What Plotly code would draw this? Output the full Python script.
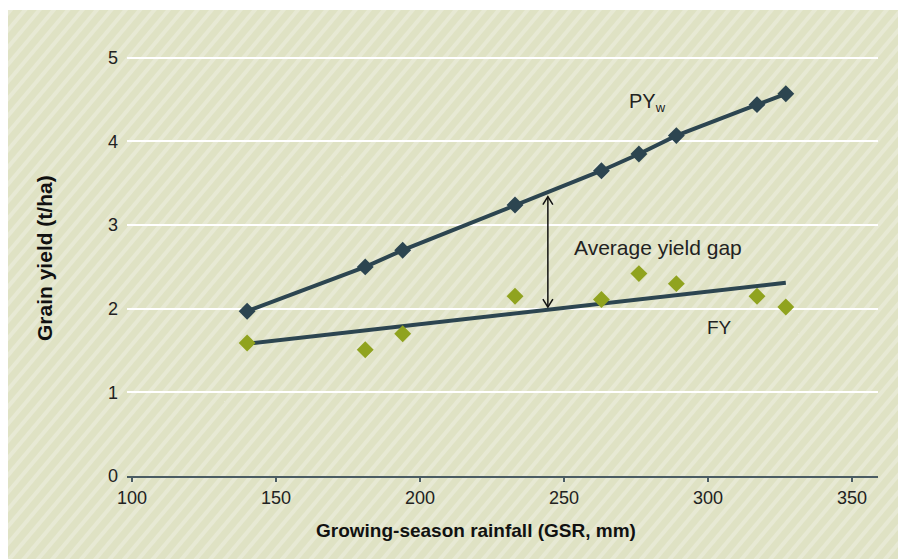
import base64
import plotly.graph_objects as go

# ---- data ----
gsr_mm = [140, 181, 194, 233, 263, 276, 289, 317, 327]
pyw_t_ha = [1.97, 2.50, 2.70, 3.24, 3.65, 3.85, 4.07, 4.44, 4.57]
fy_t_ha = [1.59, 1.51, 1.70, 2.15, 2.11, 2.42, 2.30, 2.15, 2.02]
fy_trend_x = [140, 327]
fy_trend_y = [1.58, 2.31]

gap_x = 244.4
gap_low = 2.02
gap_high = 3.34

x_ticks = [100, 150, 200, 250, 300, 350]
y_ticks = [0, 1, 2, 3, 4, 5]

W, H = 906, 559
ML, MR, MT, MB = 119, 36, 8, 91
X_RANGE = [98.3, 359.0]
Y_RANGE = [0, 5.5]

DARK = "#2c4550"
OLIVE = "#90a31f"
TXT = "#222222"
FONT = "Liberation Sans, Arial, sans-serif"

fig = go.Figure()

fig.add_trace(go.Scatter(
    x=gsr_mm, y=pyw_t_ha, mode="lines+markers",
    line=dict(color=DARK, width=4),
    marker=dict(symbol="diamond", size=13, color=DARK),
    showlegend=False, hoverinfo="skip"))

fig.add_trace(go.Scatter(
    x=fy_trend_x, y=fy_trend_y, mode="lines",
    line=dict(color=DARK, width=4),
    showlegend=False, hoverinfo="skip"))

fig.add_trace(go.Scatter(
    x=gsr_mm, y=fy_t_ha, mode="markers",
    marker=dict(symbol="diamond", size=13, color=OLIVE),
    showlegend=False, hoverinfo="skip"))

# double-headed arrow for the yield gap (chevron heads)
pw = W - ML - MR
ph = H - MT - MB
dx = 5 * (X_RANGE[1] - X_RANGE[0]) / pw
dy = 8 * (Y_RANGE[1] - Y_RANGE[0]) / ph
ax = [gap_x, gap_x, None,
      gap_x - dx, gap_x, gap_x + dx, None,
      gap_x - dx, gap_x, gap_x + dx]
ay = [gap_low, gap_high, None,
      gap_high - dy, gap_high, gap_high - dy, None,
      gap_low + dy, gap_low, gap_low + dy]
fig.add_trace(go.Scatter(
    x=ax, y=ay, mode="lines", line=dict(color="#111111", width=1.5),
    showlegend=False, hoverinfo="skip"))

fig.add_annotation(x=252.8, y=2.73, text="Average yield gap", showarrow=False,
                   xanchor="left", yanchor="middle",
                   font=dict(family=FONT, size=21, color=TXT))
fig.add_annotation(x=272.0, y=4.47,
                   text="PY<sub><span style='font-size:13px'>w</span></sub>",
                   showarrow=False, xanchor="left", yanchor="middle",
                   font=dict(family=FONT, size=20, color=TXT))
fig.add_annotation(x=299.0, y=1.78, text="FY", showarrow=False,
                   xanchor="left", yanchor="middle",
                   font=dict(family=FONT, size=19, color=TXT))

# axis titles (placed as in the reference, slightly off-centre)
fig.add_annotation(xref="paper", yref="paper", x=(468 - ML) / pw,
                   y=(H - MB - 522) / ph,
                   text="<b>Growing-season rainfall (GSR, mm)</b>", showarrow=False,
                   xanchor="center", yanchor="middle",
                   font=dict(family=FONT, size=19, color="#111111"))
fig.add_annotation(xref="paper", yref="paper", x=(36 - ML) / pw,
                   y=(H - MB - 250) / ph, textangle=-90,
                   text="<b>Grain yield (t/ha)</b>", showarrow=False,
                   xanchor="center", yanchor="middle",
                   font=dict(family=FONT, size=21, color="#111111"))

# striped background panel
BX, BY = 0, 2
BW, BH = W - BX, H - BY
svg = (f'<svg xmlns="http://www.w3.org/2000/svg" width="{BW}" height="{BH}">'
       '<defs><pattern id="p" width="11" height="11" patternUnits="userSpaceOnUse" '
       'patternTransform="rotate(40)">'
       '<rect width="11" height="11" fill="#dfe2c4"/>'
       '<rect width="4" height="11" fill="#e7e9d4"/>'
       '</pattern></defs>'
       f'<rect width="{BW}" height="{BH}" fill="url(#p)"/></svg>')
src = "data:image/svg+xml;base64," + base64.b64encode(svg.encode()).decode()
fig.add_layout_image(dict(
    source=src, xref="paper", yref="paper",
    x=(BX - ML) / pw, y=(H - MB - BY) / ph,
    sizex=BW / pw, sizey=BH / ph,
    xanchor="left", yanchor="top", sizing="stretch", layer="below"))

fig.update_layout(
    width=W, height=H,
    margin=dict(l=ML, r=MR, t=MT, b=MB),
    paper_bgcolor="white", plot_bgcolor="rgba(0,0,0,0)",
    font=dict(family=FONT, color=TXT),
    xaxis=dict(range=X_RANGE, tickvals=x_ticks, showgrid=False, zeroline=False,
               showline=True, linecolor="#4a5c63", linewidth=2,
               ticks="outside", ticklen=4, tickwidth=1.5, tickcolor="#4a5c63",
               tickfont=dict(family=FONT, size=18, color=TXT),
               ticklabelstandoff=0),
    yaxis=dict(range=Y_RANGE, tickvals=y_ticks, showgrid=True, gridcolor="white",
               gridwidth=2, zeroline=False, showline=False, ticks="",
               tickfont=dict(family=FONT, size=18, color=TXT),
               ticklabelstandoff=8),
)

fig.write_html("out.html")
